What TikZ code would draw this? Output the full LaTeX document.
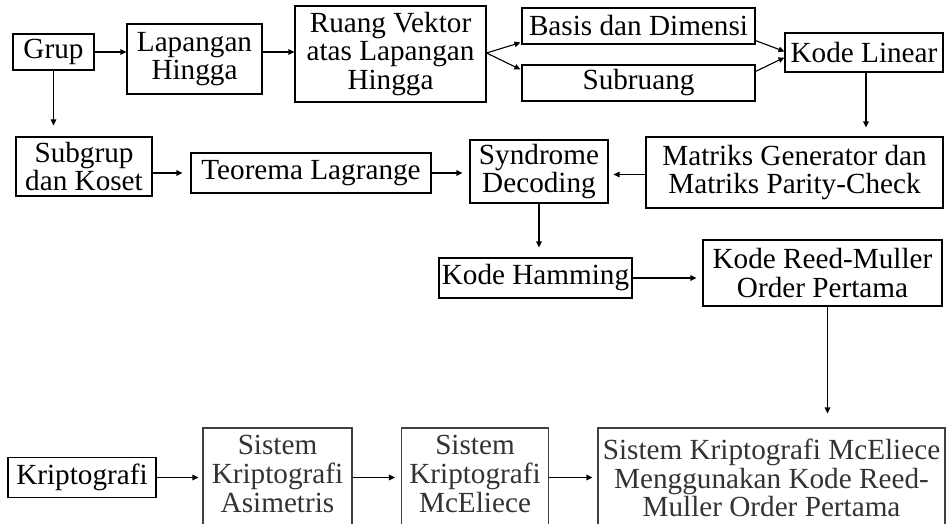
\documentclass[tikz,border=0pt]{standalone}
\usepackage{fontspec}
\setmainfont{Liberation Serif}
\usetikzlibrary{arrows.meta,calc}
\begin{document}
\begin{tikzpicture}[x=1pt,y=-1pt,
  every node/.style={font=\fontsize{29.2}{28.8}\selectfont},
  box/.style={draw, line width=1.1pt, inner sep=0pt, align=center},
  graybox/.style={box, draw=black!75, text=black!80},
  txt/.style={inner sep=0pt, align=center, text=black!80},
  arr/.style={line width=1.1pt, -{Triangle[length=6pt,width=5.5pt]}}]
\useasboundingbox (0,0) rectangle (947,524);
\clip (0,0) rectangle (947,524);
% top row
\node[box, minimum width=81pt, minimum height=36pt] (grup) at (53.5,52) {Grup};
\node[box, minimum width=135pt, minimum height=70pt] (lap) at (194.5,59) {Lapangan\\Hingga};
\node[box, minimum width=191pt, minimum height=96pt] (ruang) at (390.5,54) {Ruang Vektor\\atas Lapangan\\Hingga};
\node[box, minimum width=233pt, minimum height=36pt] (basis) at (638.5,26) {Basis dan Dimensi};
\node[box, minimum width=233pt, minimum height=36pt] (sub) at (638.5,83) {Subruang};
\node[box, minimum width=158pt, minimum height=39pt] (kl) at (864,52.5) {Kode Linear};
% second row
\node[box, minimum width=136pt, minimum height=59pt] (subgrup) at (84,166.5) {Subgrup\\dan Koset};
\node[box, minimum width=240pt, minimum height=40pt] (teo) at (311,173) {Teorema Lagrange};
\node[box, minimum width=138pt, minimum height=63pt] (syn) at (539,171.5) {Syndrome\\Decoding};
\node[box, minimum width=297pt, minimum height=71pt] (mat) at (794.5,172.5) {Matriks Generator dan\\Matriks Parity-Check};
% third row
\node[box, minimum width=193pt, minimum height=40pt] (ham) at (535.5,278) {Kode Hamming};
\node[box, minimum width=239pt, minimum height=66pt] (rm) at (822.5,273) {Kode Reed-Muller\\Order Pertama};
% bottom row
\node[box, minimum width=148pt, minimum height=40pt] (kri) at (82,477.5) {Kriptografi};
\node[graybox, minimum width=149pt, minimum height=112pt] (asi) at (277.5,484) {};
\node[txt] (asitxt) at (277.5,474) {Sistem\\Kriptografi\\Asimetris};
\node[graybox, minimum width=147pt, minimum height=112pt] (mce) at (475,484) {};
\node[txt] (mcetxt) at (475,474) {Sistem\\Kriptografi\\McEliece};
\node[graybox, minimum width=347pt, minimum height=112pt] (fin) at (771.5,484) {};
\node[txt] (fintxt) at (771.5,478) {Sistem Kriptografi McEliece\\Menggunakan Kode Reed-\\Muller Order Pertama};
% connectors
\draw[arr] (grup.east) -- (grup.east -| lap.west);
\draw[arr] (lap.east |- grup.east) -- (ruang.west |- grup.east);
\draw[arr] ([yshift=1pt]ruang.east) -- ([xshift=-1pt,yshift=2pt]basis.south west);
\draw[arr] ([yshift=1pt]ruang.east) -- ([xshift=-1pt,yshift=-5pt]sub.north west);
\draw[arr] ([yshift=4pt]basis.south east) -- ([yshift=1pt]kl.west);
\draw[arr] ([yshift=-7pt]sub.north east) -- ([yshift=-5pt]kl.west);
\draw[arr, shorten >=11pt] (grup.south) -- (grup.south |- subgrup.north);
\draw[arr, shorten >=9pt] ([xshift=2pt]kl.south) -- ([xshift=2pt]kl.south |- mat.north);
\draw[arr, shorten >=8pt] (subgrup.east |- teo.west) -- (teo.west);
\draw[arr, shorten >=7pt] (teo.east) -- (teo.east -| syn.west);
\draw[arr, shorten >=5pt] ([yshift=-2pt]mat.west) -- ([yshift=-2pt]mat.west -| syn.east);
\draw[arr, shorten >=10pt] (syn.south) -- (syn.south |- ham.north);
\draw[arr, shorten >=6pt] (ham.east) -- (ham.east -| rm.west);
\draw[arr, shorten >=14pt] ([xshift=5pt]rm.south) -- ([xshift=5pt]rm.south |- fin.north);
\draw[arr, shorten >=4pt] (kri.east) -- (kri.east -| asi.west);
\draw[arr, shorten >=6pt] (kri.east -| asi.east) -- (kri.east -| mce.west);
\draw[arr, shorten >=5pt] (kri.east -| mce.east) -- (kri.east -| fin.west);
\end{tikzpicture}
\end{document}
